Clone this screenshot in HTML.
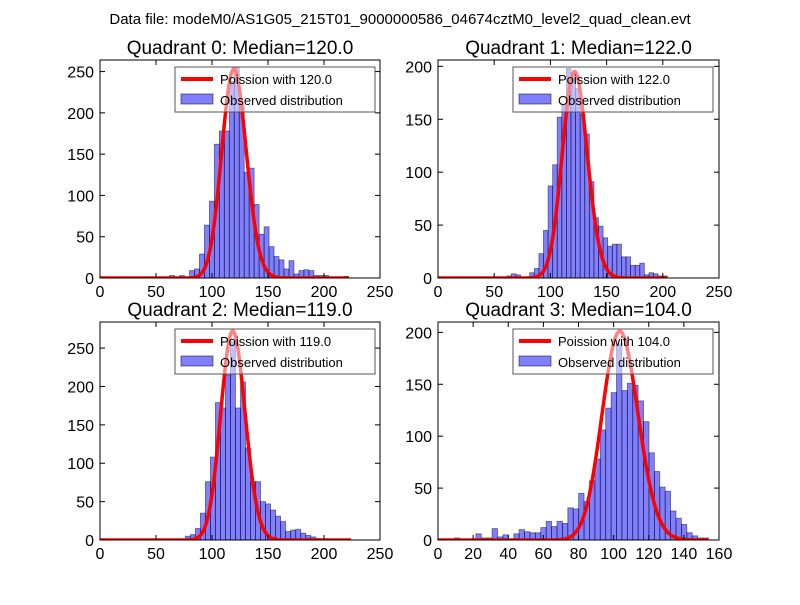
<!DOCTYPE html>
<html><head><meta charset="utf-8"><style>
body{margin:0;background:#fff;}
svg text{font-family:"Liberation Sans","DejaVu Sans",sans-serif;}
</style></head><body>
<svg id="fig" width="800" height="600" viewBox="0 0 800 600">
<rect width="800" height="600" fill="#fff"/>
<text x="400" y="24" text-anchor="middle" font-size="15">Data file: modeM0/AS1G05_215T01_9000000586_04674cztM0_level2_quad_clean.evt</text>
</svg>
<script>
const q0Counts=[3,0,3,0,9,11,29,64,93,162,178,178,238,255,210,128,133,89,53,62,38,26,22,11,21,5,9,10,9,3,3,3,0,0,0,2];
const q1Counts=[2,4,3,0,1,5,9,23,45,87,107,152,163,198,191,179,155,136,91,57,49,38,30,32,32,20,20,12,12,14,3,5,4,2,2];
const q2Counts=[5,7,15,35,76,108,179,172,215,258,172,206,120,76,76,50,47,39,31,24,11,13,14,9,6,4,2,1,1,1,1,1,1];
const q3Counts=[1,0,0,2,0,0,0,6,2,2,11,3,5,1,6,10,8,7,7,12,18,13,18,16,31,30,45,37,57,78,106,127,142,189,144,151,149,134,114,84,66,51,47,28,21,15,7,4,2,2];
const startBins=[14,15,17,0];
const dataMax=[222,204,224,154];
const medians=[120,122,119,104];
const curvePeaks=[253,195,272,201];
const yMaxes=[264,206,284,210];
const xMaxes=[250,250,250,160];
const xTicks=[[0,50,100,150,200,250],[0,50,100,150,200,250],[0,50,100,150,200,250],[0,20,40,60,80,100,120,140,160]];
const yTicks=[[0,50,100,150,200,250],[0,50,100,150,200],[0,50,100,150,200,250],[0,50,100,150,200]];
const allCounts=[q0Counts,q1Counts,q2Counts,q3Counts];

const NS="http://www.w3.org/2000/svg";
const svg=document.getElementById('fig');
function mk(tag,attrs,parent){const e=document.createElementNS(NS,tag);for(const k in attrs)e.setAttribute(k,attrs[k]);(parent||svg).appendChild(e);return e;}
function lgamma(z){const g=7,c=[0.99999999999980993,676.5203681218851,-1259.1392167224028,771.32342877765313,-176.61502916214059,12.507343278686905,-0.13857109526572012,9.9843695780195716e-6,1.5056327351493116e-7];z-=1;let x=c[0];for(let i=1;i<g+2;i++)x+=c[i]/(z+i);const t=z+g+0.5;return 0.5*Math.log(2*Math.PI)+(z+0.5)*Math.log(t)-t+Math.log(x);}
function logpmf(k,mu){return k*Math.log(mu)-mu-lgamma(k+1);}

const boxes=[[100,60,280,218],[438,60,281,218],[100,322,280,218],[438,322,281,218]];
for(let p=0;p<4;p++){
  const [L,T,W,H]=boxes[p];
  const g=mk('g',{});
  
  
  const xs=v=>L+v/xMaxes[p]*W, ys=v=>T+H-v/yMaxes[p]*H;
  const clipId='clip'+p;
  const cp=mk('clipPath',{id:clipId},g);mk('rect',{x:L,y:T,width:W,height:H},cp);
  const plot=mk('g',{'clip-path':'url(#'+clipId+')'},g);
  // bars
  const bw=dataMax[p]/50;
  allCounts[p].forEach((c,i)=>{
    if(c<=0)return;
    const k=startBins[p]+i;
    const r=mk('rect',{x:xs(k*bw),y:ys(c),width:xs(bw)-xs(0),height:ys(0)-ys(c),fill:'rgba(0,0,255,0.5)',stroke:'rgba(0,0,0,0.5)','stroke-width':0.8},plot);
    
    
  });
  // curve
  const mu=medians[p],peakL=logpmf(Math.floor(mu),mu);
  let d='';
  for(let x=0;x<=Math.round(dataMax[p]);x++){const v=curvePeaks[p]*Math.exp(logpmf(x,mu)-peakL);d+=(x?'L':'M')+xs(x).toFixed(2)+','+ys(v).toFixed(2);}
  const line=mk('path',{d:d,fill:'none',stroke:'#ff0000','stroke-width':3.5,'stroke-linejoin':'round'},plot);
  
  
  // frame
  mk('rect',{x:L,y:T,width:W,height:H,fill:'none',stroke:'#000','stroke-width':1},g);
  xTicks[p].forEach(t=>{
    const x=xs(t);
    mk('line',{x1:x,x2:x,y1:T+H,y2:T+H-5,stroke:'#000'},g);
    mk('line',{x1:x,x2:x,y1:T,y2:T+5,stroke:'#000'},g);
    const tx=mk('text',{x:x,y:T+H+19,'text-anchor':'middle','font-size':16},g);tx.textContent=t;
    
    
  });
  yTicks[p].forEach(t=>{
    const y=ys(t);
    mk('line',{x1:L,x2:L+5,y1:y,y2:y,stroke:'#000'},g);
    mk('line',{x1:L+W,x2:L+W-5,y1:y,y2:y,stroke:'#000'},g);
    const tx=mk('text',{x:L-6,y:y+6,'text-anchor':'end','font-size':16},g);tx.textContent=t;
    
    
  });
  const ti=mk('text',{x:L+W/2,y:T-6,'text-anchor':'middle','font-size':19},g);
  ti.textContent='Quadrant '+p+': Median='+mu.toFixed(1);
  
  
  // legend
  const lg=mk('g',{},g);
  
  
  const lx=L+75,ly=T+7;
  mk('rect',{x:lx,y:ly,width:200,height:45,fill:'rgba(255,255,255,0.5)',stroke:'#555','stroke-width':1},lg);
  mk('line',{x1:lx+6,x2:lx+38,y1:ly+12,y2:ly+12,stroke:'#ff0000','stroke-width':4},lg);
  mk('rect',{x:lx+6,y:ly+27,width:32,height:10,fill:'rgba(0,0,255,0.5)',stroke:'rgba(0,0,0,0.5)'},lg);
  const t1=mk('text',{x:lx+45,y:ly+17,'font-size':13},lg);t1.textContent='Poission with '+mu.toFixed(1);
  
  
  const t2=mk('text',{x:lx+45,y:ly+38,'font-size':13},lg);t2.textContent='Observed distribution';
  
  
}
</script>
</body></html>
